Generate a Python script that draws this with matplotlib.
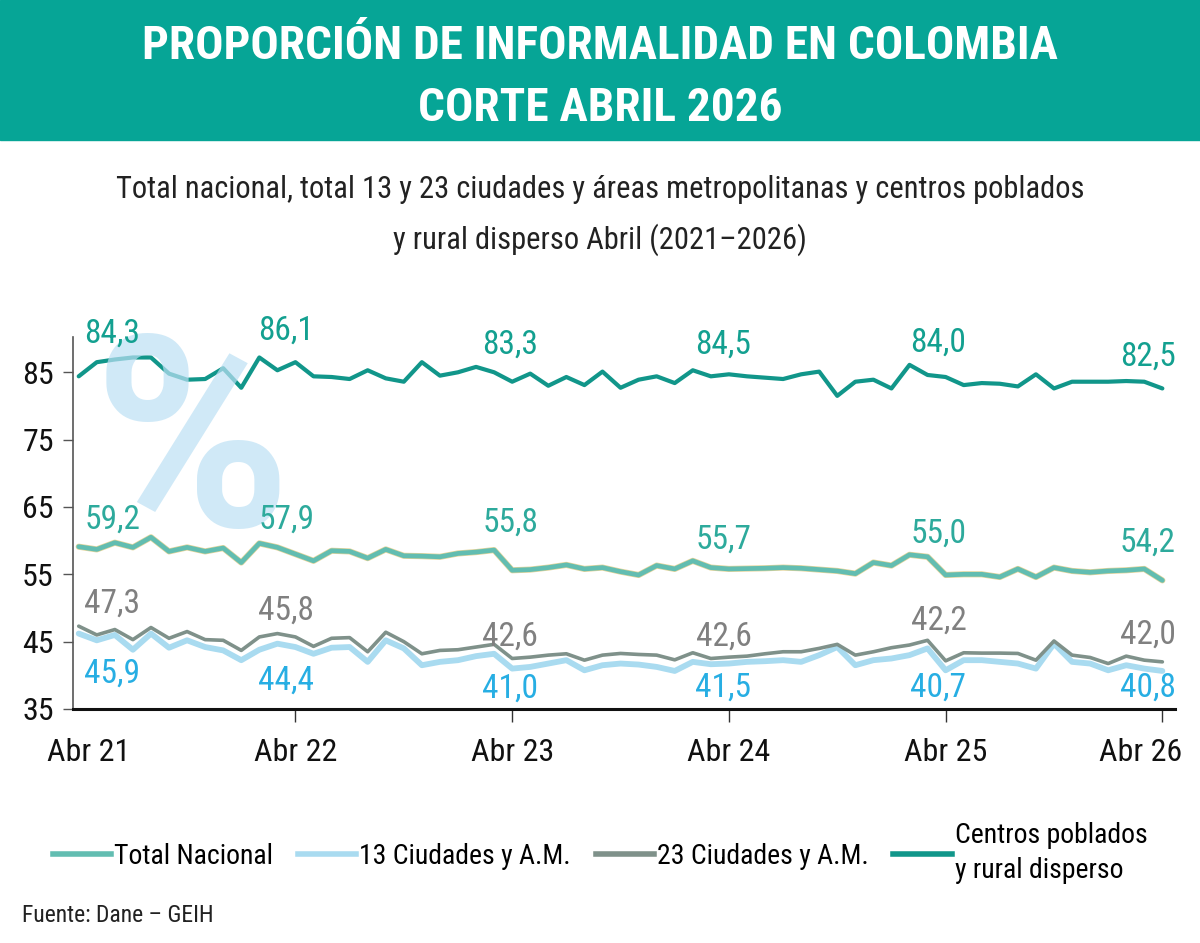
import numpy as np
import matplotlib
matplotlib.use("Agg")
import matplotlib.pyplot as plt
import matplotlib.patheffects as pe
from matplotlib import font_manager as fm
from matplotlib.lines import Line2D
from matplotlib.patches import Rectangle
from matplotlib.transforms import ScaledTranslation

# ---- data (monthly, Abr 2021 - Abr 2026) ----
tick_labels = ['Abr 21', 'Abr 22', 'Abr 23', 'Abr 24', 'Abr 25', 'Abr 26']

centros = [84.4, 86.5, 86.9, 87.2, 87.2, 84.8, 83.9, 84.0, 85.6, 82.7,
           87.2, 85.3, 86.5, 84.4, 84.3, 84.0, 85.3, 84.1, 83.6, 86.5,
           84.5, 85.0, 85.8, 85.0, 83.6, 84.8, 83.0, 84.3, 83.1, 85.1,
           82.7, 83.9, 84.4, 83.4, 85.3, 84.4, 84.7, 84.4, 84.2, 84.0,
           84.7, 85.1, 81.5, 83.6, 83.9, 82.6, 86.1, 84.6, 84.3, 83.1,
           83.4, 83.3, 82.9, 84.7, 82.6, 83.6, 83.6, 83.6, 83.7, 83.6, 82.6]

total_nacional = [59.1, 58.7, 59.7, 59.0, 60.5, 58.4, 59.0, 58.4, 58.9, 56.75,
                  59.6, 59.0, 58.0, 57.0, 58.5, 58.4, 57.4, 58.7, 57.75, 57.7,
                  57.6, 58.1, 58.3, 58.6, 55.6, 55.7, 56.0, 56.4, 55.8, 56.0,
                  55.4, 54.9, 56.3, 55.8, 57.0, 56.0, 55.8, 55.85, 55.9, 56.0,
                  55.9, 55.7, 55.5, 55.1, 56.75, 56.3, 57.9, 57.6, 54.9, 55.0,
                  55.0, 54.6, 55.8, 54.6, 56.0, 55.5, 55.3, 55.5, 55.6, 55.8, 54.1]

ciudades_23 = [47.3, 46.0, 46.8, 45.3, 47.1, 45.5, 46.5, 45.3, 45.2, 43.7,
               45.7, 46.2, 45.7, 44.3, 45.5, 45.6, 43.5, 46.4, 45.0, 43.2,
               43.7, 43.8, 44.2, 44.6, 42.5, 42.7, 43.0, 43.2, 42.25, 43.0,
               43.25, 43.1, 43.0, 42.3, 43.35, 42.5, 42.7, 42.85, 43.2, 43.5,
               43.5, 44.0, 44.6, 43.0, 43.5, 44.1, 44.5, 45.2, 42.15, 43.35,
               43.3, 43.3, 43.25, 42.25, 45.1, 43.0, 42.65, 41.75, 42.85, 42.25, 42.0]

ciudades_13 = [46.2, 45.2, 46.0, 43.8, 46.2, 44.1, 45.2, 44.2, 43.7, 42.25,
               43.8, 44.7, 44.2, 43.2, 44.1, 44.2, 42.0, 45.2, 44.0, 41.5,
               42.0, 42.25, 42.85, 43.2, 41.0, 41.25, 41.75, 42.25, 40.75, 41.5,
               41.75, 41.6, 41.25, 40.65, 42.0, 41.65, 41.75, 42.0, 42.1, 42.25,
               42.0, 43.0, 44.2, 41.5, 42.25, 42.5, 43.0, 44.0, 40.75, 42.25,
               42.25, 42.0, 41.75, 41.0, 44.7, 42.0, 41.75, 40.75, 41.5, 41.0, 40.65]

# April values printed on the chart
lab_centros = ['84,3', '86,1', '83,3', '84,5', '84,0', '82,5']
lab_total = ['59,2', '57,9', '55,8', '55,7', '55,0', '54,2']
lab_23 = ['47,3', '45,8', '42,6', '42,6', '42,2', '42,0']
lab_13 = ['45,9', '44,4', '41,0', '41,5', '40,7', '40,8']

# ---- fonts: prefer a narrow family ----
avail = {f.name for f in fm.fontManager.ttflist}
stretch = 'normal'
if 'Liberation Sans Narrow' in avail:
    base = 'Liberation Sans Narrow'
elif 'Roboto Condensed' in avail:
    base = 'Roboto Condensed'
else:
    base = 'DejaVu Sans'
    if any(f.name == 'DejaVu Sans' and f.stretch == 'condensed' for f in fm.fontManager.ttflist):
        stretch = 'condensed'
plt.rcParams['font.family'] = [base, 'DejaVu Sans']
plt.rcParams['font.stretch'] = stretch

# colours
c_banner = '#06a596'
c_centros = '#11968a'
c_total = '#62bdb1'
c_23 = '#7f918a'
c_13 = '#a9dbf0'

fig = plt.figure(figsize=(12, 9.43), dpi=100)

# header banner
fig.patches.append(Rectangle((0, 1 - 140 / 943), 1, 140 / 943, transform=fig.transFigure,
                             color=c_banner, zorder=0))
fig.text(0.5, 1 - 46 / 943, 'PROPORCIÓN DE INFORMALIDAD EN COLOMBIA', ha='center', va='center',
         color='white', fontsize=34, fontweight='bold')
fig.text(0.5, 1 - 108 / 943, 'CORTE ABRIL 2026', ha='center', va='center',
         color='white', fontsize=34, fontweight='bold')

# subtitle
fig.text(0.5, 1 - 190 / 943,
         'Total nacional, total 13 y 23 ciudades y áreas metropolitanas y centros poblados',
         ha='center', va='center', fontsize=22, color='#222222')
fig.text(0.5, 1 - 240 / 943, 'y rural disperso Abril (2021–2026)',
         ha='center', va='center', fontsize=22, color='#222222')

ax = fig.add_axes([73.3 / 1200, 234 / 943, (1175 - 73.3) / 1200, 372 / 943])
x = np.arange(len(centros))

ax.plot(x, ciudades_13, color=c_13, lw=4.2, solid_joinstyle='round', solid_capstyle='round', zorder=2)
ax.plot(x, ciudades_23, color=c_23, lw=2.6, solid_joinstyle='round', solid_capstyle='round', zorder=3)
ax.plot(x, total_nacional, color=c_total, lw=3.4, solid_joinstyle='round', solid_capstyle='round', zorder=3,
        path_effects=[pe.Stroke(linewidth=4.4, foreground='#e3d49a'), pe.Normal()])
ax.plot(x, centros, color=c_centros, lw=3.0, solid_joinstyle='round', solid_capstyle='round', zorder=3)

# % watermark
ax.text(6.3, 62.2, '%', ha='center', va='baseline', fontsize=192, fontweight='bold',
        family=['Roboto', 'DejaVu Sans'], fontstretch='normal',
        color='#bce0f4', alpha=0.7, zorder=4)

# value labels
lab_x = [1.85, 11.5, 23.9, 35.7, 47.6, 59.2]
y_centros = [90.7, 91.2, 89.1, 89.1, 89.4, 87.3]
y_total = [63.1, 63.1, 62.6, 60.1, 61.1, 59.65]
y_23 = [50.7, 49.6, 45.8, 45.8, 48.1, 46.0]
y_13 = [40.3, 39.2, 38.0, 38.1, 38.1, 38.1]
for labels, ys, col in [(lab_centros, y_centros, '#13a090'),
                        (lab_total, y_total, '#2daa9c'),
                        (lab_23, y_23, '#808080'),
                        (lab_13, y_13, '#27aee3')]:
    for xi, yi, t in zip(lab_x, ys, labels):
        ax.text(xi, yi, t, ha='center', va='center', fontsize=24, color=col, zorder=5)

ax.set_xlim(-0.3, 60.7)
ax.set_ylim(35, 90.24)
ax.set_yticks([35, 45, 55, 65, 75, 85])
ax.set_xticks(np.arange(0, 61, 12))
ax.set_xticklabels(tick_labels)

for s in ['top', 'right']:
    ax.spines[s].set_visible(False)
ax.spines['left'].set_color('#555555')
ax.spines['left'].set_linewidth(1.2)
ax.spines['bottom'].set_color('#111111')
ax.spines['bottom'].set_linewidth(2.2)

ax.tick_params(axis='y', direction='out', length=7, width=1, color='#555555',
               labelsize=23, pad=7, labelcolor='#111111')
ax.tick_params(axis='x', direction='out', length=9, width=1, color='#333333',
               labelsize=23, pad=12, labelcolor='#111111')
ax.xaxis.get_major_ticks()[0].tick1line.set_visible(False)

# nudge end labels inwards like the original
xt = ax.get_xticklabels()
xt[0].set_transform(xt[0].get_transform() + ScaledTranslation(10 / 100, 0, fig.dpi_scale_trans))
xt[-1].set_transform(xt[-1].get_transform() + ScaledTranslation(-22 / 100, 0, fig.dpi_scale_trans))

# legend
handles = [Line2D([], [], color=c_total, lw=4),
           Line2D([], [], color=c_13, lw=4),
           Line2D([], [], color=c_23, lw=4),
           Line2D([], [], color=c_centros, lw=4)]
names = ['Total Nacional', '13 Ciudades y A.M.', '23 Ciudades y A.M.', 'Centros poblados\ny rural disperso']
leg = fig.legend(handles, names, loc='center', bbox_to_anchor=(0.5, 1 - 853 / 943), ncol=4,
                 frameon=False, fontsize=20, handlelength=2.1, handletextpad=0.1,
                 columnspacing=0.9)
leg.get_texts()[3].set_linespacing(1.35)

fig.text(22 / 1200, 1 - 915 / 943, 'Fuente: Dane – GEIH', ha='left', va='center',
         fontsize=17, color='#222222')

fig.savefig('out.png', dpi=100, facecolor='white')
